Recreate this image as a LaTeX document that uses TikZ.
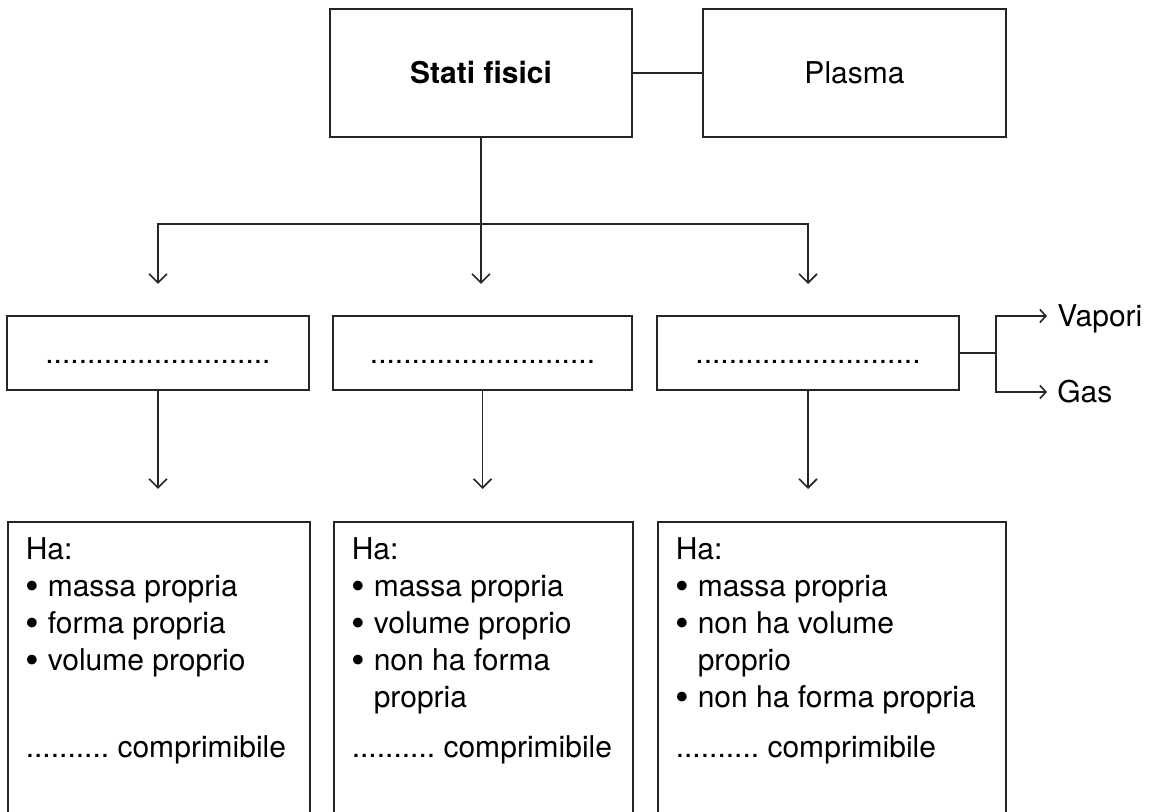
\documentclass[tikz,border=0pt]{standalone}
\usepackage{fontspec}
\setmainfont{TeX Gyre Heros}
\usetikzlibrary{arrows.meta,calc}

\newcommand\voce[1]{\par\hangindent=11pt\hangafter=1\makebox[11pt][l]{\raisebox{-1.8pt}{\scalebox{1.3}{\textbullet}}}#1}
\newcommand\acapo{\hfil\break}
\newcommand\puntini{...........................}
\newcommand\comprim{\par\vspace{6.5pt}..........\ comprimibile}

\begin{document}
\begin{tikzpicture}[x=0.5pt,y=-0.5pt,
  box/.style={draw=black!85,line width=0.8pt,inner sep=0pt,text height=10.5pt,text depth=0pt,font=\fontsize{15}{18.5}\selectfont},
  card/.style={draw=black!85,line width=0.8pt,anchor=north west,inner xsep=9pt,inner ysep=7.8pt,font=\fontsize{15}{18.5}\selectfont},
  lbl/.style={anchor=west,inner xsep=5pt,inner ysep=0pt,text height=10.5pt,text depth=0pt,font=\fontsize{15}{18.5}\selectfont},
  conn/.style={draw=black!85,line width=0.8pt},
  down/.style={conn,-{Straight Barb[length=4.5pt,width=9pt]}},
  side/.style={conn,-{Straight Barb[length=3pt,width=6.5pt]}}]
\useasboundingbox (0,0) rectangle (1153,812);
\clip (0,0) rectangle (1153,812);

% top row
\node[box,minimum width=151pt,minimum height=64pt,font=\fontsize{15}{18.5}\selectfont\bfseries] (S) at (481,73) {Stati fisici};
\node[box,minimum width=151.5pt,minimum height=64pt] (P) at (854.5,73) {Plasma};
\draw[conn] (S) -- (P);

% middle row
\node[box,minimum width=151pt,minimum height=37pt] (A) at (158,353) {\puntini};
\node[box,minimum width=149.5pt,minimum height=37pt] (B) at (482.5,353) {\puntini};
\node[box,minimum width=151pt,minimum height=37pt] (C) at (808,353) {\puntini};

\coordinate (J) at (481,224);
\coordinate (tA) at (158,284);
\coordinate (tB) at (481,284);
\coordinate (tC) at (808,284);
\draw[conn] (S.south) -- (J);
\draw[down] (J) -| (tA);
\draw[down] (J) -- (tB);
\draw[down] (J) -| (tC);

% vapori / gas
\coordinate (K) at (996,353);
\node[lbl] (V) at (1047,316) {Vapori};
\node[lbl] (G) at (1047,392) {Gas};
\draw[conn] (C.east) -- (K);
\draw[side] (K) |- (V.west);
\draw[side] (K) |- (G.west);

% bottom row
\node[card] (D) at (7,521) {\parbox[t][150pt][t]{133pt}{\raggedright
  Ha:\voce{massa propria}\voce{forma propria}\voce{volume proprio}
  \par\vspace{18.5pt}\comprim}};
\node[card] (E) at (333,521) {\parbox[t][150pt][t]{131.5pt}{\raggedright
  Ha:\voce{massa propria}\voce{volume proprio}\voce{non ha forma\acapo propria}\comprim}};
\node[card] (F) at (657,521) {\parbox[t][150pt][t]{156pt}{\raggedright
  Ha:\voce{massa propria}\voce{non ha volume\acapo proprio}\voce{non ha forma propria}\comprim}};

\coordinate (uA) at (158,489);
\coordinate (uB) at (482.5,489);
\coordinate (uC) at (808,489);
\draw[down] (A.south) -- (uA);
\draw[down] (B.south) -- (uB);
\draw[down] (C.south) -- (uC);

\end{tikzpicture}
\end{document}
